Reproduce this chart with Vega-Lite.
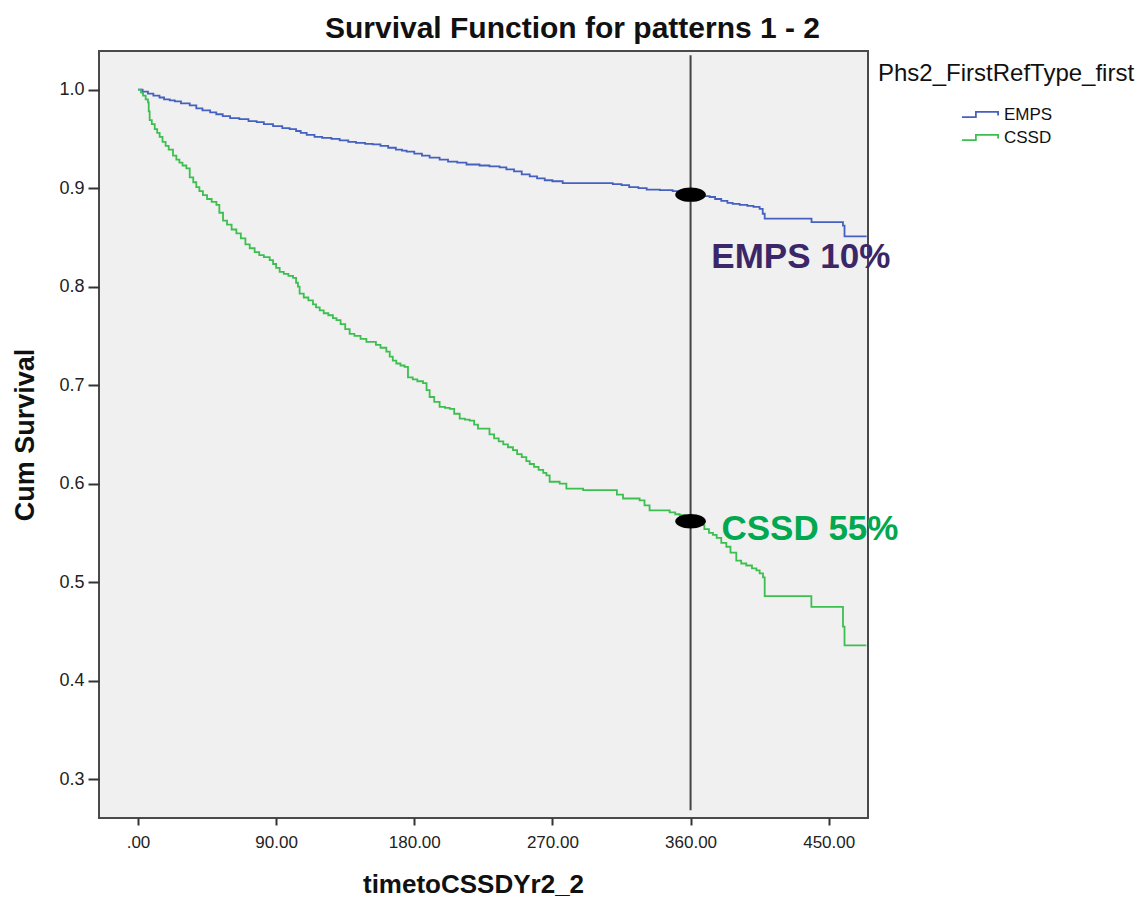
{
  "$schema": "https://vega.github.io/schema/vega-lite/v6.json",
  "width": 769,
  "height": 767,
  "autosize": {"type": "none"},
  "padding": {"left": 99, "top": 51, "right": 275, "bottom": 85},
  "background": "white",
  "title": {"text": "Survival Function for patterns 1 - 2", "fontSize": 30, "font": "Liberation Sans", "fontWeight": "bold", "color": "#111111", "anchor": "middle", "dx": 89, "offset": -17, "baseline": "alphabetic"},
  "config": {
    "view": {"fill": "#f0f0f0", "stroke": "#4a4a4a", "strokeWidth": 2},
    "font": "Liberation Sans",
    "axis": {"grid": false, "domain": false, "tickColor": "#333333", "tickWidth": 2, "labelColor": "#222222", "titleColor": "#111111", "titleFontWeight": "bold", "labelFont": "Liberation Sans", "titleFont": "Liberation Sans"}
  },
  "datasets": {
    "km": [
      {"g": "EMPS", "t": 0, "s": 1.0},
      {"g": "EMPS", "t": 3, "s": 0.998},
      {"g": "EMPS", "t": 6.5, "s": 0.996},
      {"g": "EMPS", "t": 10, "s": 0.994},
      {"g": "EMPS", "t": 14, "s": 0.992},
      {"g": "EMPS", "t": 17, "s": 0.990},
      {"g": "EMPS", "t": 20.7, "s": 0.989},
      {"g": "EMPS", "t": 24, "s": 0.988},
      {"g": "EMPS", "t": 28, "s": 0.986},
      {"g": "EMPS", "t": 33.7, "s": 0.984},
      {"g": "EMPS", "t": 38, "s": 0.981},
      {"g": "EMPS", "t": 42, "s": 0.979},
      {"g": "EMPS", "t": 47, "s": 0.977},
      {"g": "EMPS", "t": 51, "s": 0.975},
      {"g": "EMPS", "t": 55.2, "s": 0.973},
      {"g": "EMPS", "t": 60, "s": 0.971},
      {"g": "EMPS", "t": 66, "s": 0.970},
      {"g": "EMPS", "t": 72, "s": 0.968},
      {"g": "EMPS", "t": 77.3, "s": 0.967},
      {"g": "EMPS", "t": 82, "s": 0.965},
      {"g": "EMPS", "t": 88, "s": 0.963},
      {"g": "EMPS", "t": 94, "s": 0.961},
      {"g": "EMPS", "t": 98.8, "s": 0.960},
      {"g": "EMPS", "t": 103, "s": 0.958},
      {"g": "EMPS", "t": 106, "s": 0.956},
      {"g": "EMPS", "t": 109.9, "s": 0.954},
      {"g": "EMPS", "t": 115, "s": 0.952},
      {"g": "EMPS", "t": 120, "s": 0.951},
      {"g": "EMPS", "t": 126, "s": 0.950},
      {"g": "EMPS", "t": 131.4, "s": 0.9485},
      {"g": "EMPS", "t": 137, "s": 0.947},
      {"g": "EMPS", "t": 142, "s": 0.946},
      {"g": "EMPS", "t": 148, "s": 0.945},
      {"g": "EMPS", "t": 152.9, "s": 0.9445},
      {"g": "EMPS", "t": 158, "s": 0.943},
      {"g": "EMPS", "t": 163, "s": 0.941},
      {"g": "EMPS", "t": 168, "s": 0.939},
      {"g": "EMPS", "t": 172, "s": 0.938},
      {"g": "EMPS", "t": 175, "s": 0.937},
      {"g": "EMPS", "t": 180, "s": 0.935},
      {"g": "EMPS", "t": 185, "s": 0.933},
      {"g": "EMPS", "t": 190, "s": 0.931},
      {"g": "EMPS", "t": 196.5, "s": 0.929},
      {"g": "EMPS", "t": 202, "s": 0.927},
      {"g": "EMPS", "t": 208, "s": 0.926},
      {"g": "EMPS", "t": 214, "s": 0.924},
      {"g": "EMPS", "t": 222.5, "s": 0.923},
      {"g": "EMPS", "t": 229, "s": 0.922},
      {"g": "EMPS", "t": 235.6, "s": 0.921},
      {"g": "EMPS", "t": 240, "s": 0.919},
      {"g": "EMPS", "t": 245, "s": 0.917},
      {"g": "EMPS", "t": 250, "s": 0.914},
      {"g": "EMPS", "t": 255.2, "s": 0.912},
      {"g": "EMPS", "t": 260, "s": 0.910},
      {"g": "EMPS", "t": 265, "s": 0.908},
      {"g": "EMPS", "t": 270, "s": 0.907},
      {"g": "EMPS", "t": 276.7, "s": 0.905},
      {"g": "EMPS", "t": 309.3, "s": 0.904},
      {"g": "EMPS", "t": 315, "s": 0.903},
      {"g": "EMPS", "t": 320, "s": 0.901},
      {"g": "EMPS", "t": 326, "s": 0.900},
      {"g": "EMPS", "t": 331.4, "s": 0.8985},
      {"g": "EMPS", "t": 340, "s": 0.898},
      {"g": "EMPS", "t": 348.3, "s": 0.897},
      {"g": "EMPS", "t": 352, "s": 0.896},
      {"g": "EMPS", "t": 355, "s": 0.895},
      {"g": "EMPS", "t": 358.8, "s": 0.894},
      {"g": "EMPS", "t": 365, "s": 0.892},
      {"g": "EMPS", "t": 372.4, "s": 0.891},
      {"g": "EMPS", "t": 376, "s": 0.889},
      {"g": "EMPS", "t": 380, "s": 0.887},
      {"g": "EMPS", "t": 384, "s": 0.885},
      {"g": "EMPS", "t": 387.4, "s": 0.884},
      {"g": "EMPS", "t": 392, "s": 0.883},
      {"g": "EMPS", "t": 397, "s": 0.882},
      {"g": "EMPS", "t": 401, "s": 0.881},
      {"g": "EMPS", "t": 405, "s": 0.879},
      {"g": "EMPS", "t": 407, "s": 0.874},
      {"g": "EMPS", "t": 408.3, "s": 0.869},
      {"g": "EMPS", "t": 438.8, "s": 0.8656},
      {"g": "EMPS", "t": 459.3, "s": 0.862},
      {"g": "EMPS", "t": 460.3, "s": 0.851},
      {"g": "EMPS", "t": 474.7, "s": 0.851},
      {"g": "CSSD", "t": 0, "s": 1.0},
      {"g": "CSSD", "t": 2, "s": 0.997},
      {"g": "CSSD", "t": 3.3, "s": 0.994},
      {"g": "CSSD", "t": 5, "s": 0.990},
      {"g": "CSSD", "t": 6.5, "s": 0.987},
      {"g": "CSSD", "t": 7, "s": 0.978},
      {"g": "CSSD", "t": 7.6, "s": 0.969},
      {"g": "CSSD", "t": 9, "s": 0.965},
      {"g": "CSSD", "t": 10.9, "s": 0.960},
      {"g": "CSSD", "t": 12.5, "s": 0.956},
      {"g": "CSSD", "t": 14.1, "s": 0.952},
      {"g": "CSSD", "t": 16, "s": 0.947},
      {"g": "CSSD", "t": 18, "s": 0.943},
      {"g": "CSSD", "t": 20, "s": 0.939},
      {"g": "CSSD", "t": 22.8, "s": 0.933},
      {"g": "CSSD", "t": 25, "s": 0.929},
      {"g": "CSSD", "t": 27, "s": 0.926},
      {"g": "CSSD", "t": 29, "s": 0.923},
      {"g": "CSSD", "t": 31.5, "s": 0.920},
      {"g": "CSSD", "t": 33.7, "s": 0.911},
      {"g": "CSSD", "t": 36, "s": 0.906},
      {"g": "CSSD", "t": 38, "s": 0.901},
      {"g": "CSSD", "t": 40, "s": 0.897},
      {"g": "CSSD", "t": 42.3, "s": 0.893},
      {"g": "CSSD", "t": 45, "s": 0.889},
      {"g": "CSSD", "t": 48, "s": 0.886},
      {"g": "CSSD", "t": 51.1, "s": 0.883},
      {"g": "CSSD", "t": 53, "s": 0.875},
      {"g": "CSSD", "t": 55.4, "s": 0.867},
      {"g": "CSSD", "t": 58, "s": 0.863},
      {"g": "CSSD", "t": 61, "s": 0.858},
      {"g": "CSSD", "t": 64.1, "s": 0.854},
      {"g": "CSSD", "t": 67, "s": 0.849},
      {"g": "CSSD", "t": 70, "s": 0.843},
      {"g": "CSSD", "t": 72.8, "s": 0.839},
      {"g": "CSSD", "t": 76, "s": 0.835},
      {"g": "CSSD", "t": 79, "s": 0.832},
      {"g": "CSSD", "t": 82, "s": 0.830},
      {"g": "CSSD", "t": 85.8, "s": 0.827},
      {"g": "CSSD", "t": 88, "s": 0.823},
      {"g": "CSSD", "t": 90, "s": 0.819},
      {"g": "CSSD", "t": 92.3, "s": 0.815},
      {"g": "CSSD", "t": 95, "s": 0.813},
      {"g": "CSSD", "t": 98, "s": 0.811},
      {"g": "CSSD", "t": 101, "s": 0.809},
      {"g": "CSSD", "t": 103, "s": 0.804},
      {"g": "CSSD", "t": 104.2, "s": 0.800},
      {"g": "CSSD", "t": 105.3, "s": 0.793},
      {"g": "CSSD", "t": 108, "s": 0.789},
      {"g": "CSSD", "t": 111, "s": 0.786},
      {"g": "CSSD", "t": 114, "s": 0.782},
      {"g": "CSSD", "t": 116, "s": 0.779},
      {"g": "CSSD", "t": 118.4, "s": 0.776},
      {"g": "CSSD", "t": 121, "s": 0.773},
      {"g": "CSSD", "t": 124, "s": 0.771},
      {"g": "CSSD", "t": 127, "s": 0.768},
      {"g": "CSSD", "t": 129.3, "s": 0.766},
      {"g": "CSSD", "t": 132, "s": 0.762},
      {"g": "CSSD", "t": 135, "s": 0.757},
      {"g": "CSSD", "t": 137.9, "s": 0.752},
      {"g": "CSSD", "t": 141, "s": 0.750},
      {"g": "CSSD", "t": 145, "s": 0.747},
      {"g": "CSSD", "t": 148.8, "s": 0.744},
      {"g": "CSSD", "t": 155, "s": 0.741},
      {"g": "CSSD", "t": 158, "s": 0.738},
      {"g": "CSSD", "t": 161.8, "s": 0.734},
      {"g": "CSSD", "t": 164, "s": 0.729},
      {"g": "CSSD", "t": 166, "s": 0.725},
      {"g": "CSSD", "t": 168.3, "s": 0.722},
      {"g": "CSSD", "t": 171, "s": 0.720},
      {"g": "CSSD", "t": 173.7, "s": 0.7185},
      {"g": "CSSD", "t": 175.9, "s": 0.708},
      {"g": "CSSD", "t": 179, "s": 0.706},
      {"g": "CSSD", "t": 182, "s": 0.704},
      {"g": "CSSD", "t": 185.7, "s": 0.702},
      {"g": "CSSD", "t": 188, "s": 0.695},
      {"g": "CSSD", "t": 190, "s": 0.688},
      {"g": "CSSD", "t": 193, "s": 0.683},
      {"g": "CSSD", "t": 196.5, "s": 0.678},
      {"g": "CSSD", "t": 200, "s": 0.677},
      {"g": "CSSD", "t": 203.1, "s": 0.676},
      {"g": "CSSD", "t": 206, "s": 0.671},
      {"g": "CSSD", "t": 209.6, "s": 0.666},
      {"g": "CSSD", "t": 213, "s": 0.665},
      {"g": "CSSD", "t": 216.1, "s": 0.664},
      {"g": "CSSD", "t": 219, "s": 0.660},
      {"g": "CSSD", "t": 221.5, "s": 0.656},
      {"g": "CSSD", "t": 229, "s": 0.650},
      {"g": "CSSD", "t": 232, "s": 0.646},
      {"g": "CSSD", "t": 235, "s": 0.643},
      {"g": "CSSD", "t": 238, "s": 0.640},
      {"g": "CSSD", "t": 241, "s": 0.637},
      {"g": "CSSD", "t": 244.3, "s": 0.634},
      {"g": "CSSD", "t": 247, "s": 0.630},
      {"g": "CSSD", "t": 250, "s": 0.627},
      {"g": "CSSD", "t": 253, "s": 0.623},
      {"g": "CSSD", "t": 255.2, "s": 0.620},
      {"g": "CSSD", "t": 258, "s": 0.617},
      {"g": "CSSD", "t": 261, "s": 0.614},
      {"g": "CSSD", "t": 264, "s": 0.611},
      {"g": "CSSD", "t": 266.1, "s": 0.6085},
      {"g": "CSSD", "t": 268.2, "s": 0.602},
      {"g": "CSSD", "t": 274.7, "s": 0.600},
      {"g": "CSSD", "t": 279.1, "s": 0.595},
      {"g": "CSSD", "t": 290, "s": 0.5935},
      {"g": "CSSD", "t": 312, "s": 0.589},
      {"g": "CSSD", "t": 316, "s": 0.585},
      {"g": "CSSD", "t": 326.8, "s": 0.583},
      {"g": "CSSD", "t": 330, "s": 0.578},
      {"g": "CSSD", "t": 333.3, "s": 0.573},
      {"g": "CSSD", "t": 346.4, "s": 0.571},
      {"g": "CSSD", "t": 350, "s": 0.569},
      {"g": "CSSD", "t": 352.9, "s": 0.568},
      {"g": "CSSD", "t": 356, "s": 0.565},
      {"g": "CSSD", "t": 358.3, "s": 0.562},
      {"g": "CSSD", "t": 362, "s": 0.560},
      {"g": "CSSD", "t": 365.9, "s": 0.558},
      {"g": "CSSD", "t": 369, "s": 0.554},
      {"g": "CSSD", "t": 372, "s": 0.550},
      {"g": "CSSD", "t": 374.6, "s": 0.548},
      {"g": "CSSD", "t": 377, "s": 0.545},
      {"g": "CSSD", "t": 380, "s": 0.540},
      {"g": "CSSD", "t": 383.3, "s": 0.536},
      {"g": "CSSD", "t": 386, "s": 0.530},
      {"g": "CSSD", "t": 389.8, "s": 0.522},
      {"g": "CSSD", "t": 393, "s": 0.519},
      {"g": "CSSD", "t": 396.3, "s": 0.517},
      {"g": "CSSD", "t": 400, "s": 0.514},
      {"g": "CSSD", "t": 402.9, "s": 0.512},
      {"g": "CSSD", "t": 405, "s": 0.509},
      {"g": "CSSD", "t": 407.2, "s": 0.505},
      {"g": "CSSD", "t": 408.3, "s": 0.486},
      {"g": "CSSD", "t": 438.7, "s": 0.475},
      {"g": "CSSD", "t": 459.3, "s": 0.455},
      {"g": "CSSD", "t": 460.3, "s": 0.436},
      {"g": "CSSD", "t": 474.5, "s": 0.436}
    ]
  },
  "layer": [
    {
      "data": {"name": "km"},
      "mark": {"type": "line", "interpolate": "step-after", "strokeWidth": 1.8},
      "encoding": {
        "x": {
          "field": "t", "type": "quantitative",
          "scale": {"domain": [-25.4, 475.6], "nice": false, "zero": false},
          "axis": {
            "values": [0, 90, 180, 270, 360, 450],
            "labelExpr": "datum.value == 0 ? '.00' : format(datum.value, '.2f')",
            "labelFontSize": 17, "tickSize": 7, "labelPadding": 9,
            "title": "timetoCSSDYr2_2", "titleFontSize": 26,
            "titleX": 374, "titleY": 74, "titleBaseline": "alphabetic", "titleAlign": "center"
          }
        },
        "y": {
          "field": "s", "type": "quantitative",
          "scale": {"domain": [0.2607, 1.0392], "nice": false, "zero": false},
          "axis": {
            "values": [0.3, 0.4, 0.5, 0.6, 0.7, 0.8, 0.9, 1.0],
            "format": ".1f", "labelFontSize": 18, "tickSize": 11, "labelPadding": 4,
            "title": "Cum Survival", "titleFontSize": 27,
            "titleX": -66, "titleY": 383.5, "titleAngle": -90, "titleAlign": "center", "titleBaseline": "alphabetic"
          }
        },
        "color": {
          "field": "g", "type": "nominal",
          "scale": {"domain": ["EMPS", "CSSD"], "range": ["#4460c0", "#3dbf50"]},
          "legend": {
            "title": "Phs2_FirstRefType_first", "orient": "none", "legendX": 779, "legendY": 11,
            "titleFontSize": 24, "titleFontWeight": "normal", "titleColor": "#111111", "titleBaseline": "top", "titlePadding": 17, "titleLimit": 500,
            "labelFontSize": 17, "labelColor": "#111111", "labelLimit": 200,
            "symbolType": "M-1,0.14H-0.25V-0.14H0.95V0.05", "symbolSize": 1369, "symbolStrokeWidth": 1.8,
            "symbolOffset": 83, "labelOffset": 4, "clipHeight": 23, "rowPadding": 0, "padding": 0
          }
        }
      }
    },
    {
      "data": {"values": [{"t": 360, "s": 1.0348, "s2": 0.2685}]},
      "mark": {"type": "rule", "color": "#444444", "strokeWidth": 2},
      "encoding": {
        "x": {"field": "t", "type": "quantitative"},
        "y": {"field": "s", "type": "quantitative"},
        "y2": {"field": "s2"}
      }
    },
    {
      "data": {"values": [{"t": 360, "s": 0.8934}, {"t": 360, "s": 0.5619}]},
      "mark": {"type": "point", "shape": "M-1,0A1,0.47,0,1,0,1,0A1,0.47,0,1,0,-1,0Z", "size": 940, "filled": true, "color": "#000000", "opacity": 1},
      "encoding": {
        "x": {"field": "t", "type": "quantitative"},
        "y": {"field": "s", "type": "quantitative"}
      }
    },
    {
      "data": {"values": [{"t": 373.5, "s": 0.8193, "label": "EMPS 10%"}]},
      "mark": {"type": "text", "align": "left", "baseline": "alphabetic", "font": "Liberation Sans", "fontWeight": "bold", "fontSize": 35, "color": "#3b2768"},
      "encoding": {
        "x": {"field": "t", "type": "quantitative"},
        "y": {"field": "s", "type": "quantitative"},
        "text": {"field": "label"}
      }
    },
    {
      "data": {"values": [{"t": 380.1, "s": 0.5426, "label": "CSSD 55%"}]},
      "mark": {"type": "text", "align": "left", "baseline": "alphabetic", "font": "Liberation Sans", "fontWeight": "bold", "fontSize": 35, "color": "#00a850"},
      "encoding": {
        "x": {"field": "t", "type": "quantitative"},
        "y": {"field": "s", "type": "quantitative"},
        "text": {"field": "label"}
      }
    }
  ]
}
